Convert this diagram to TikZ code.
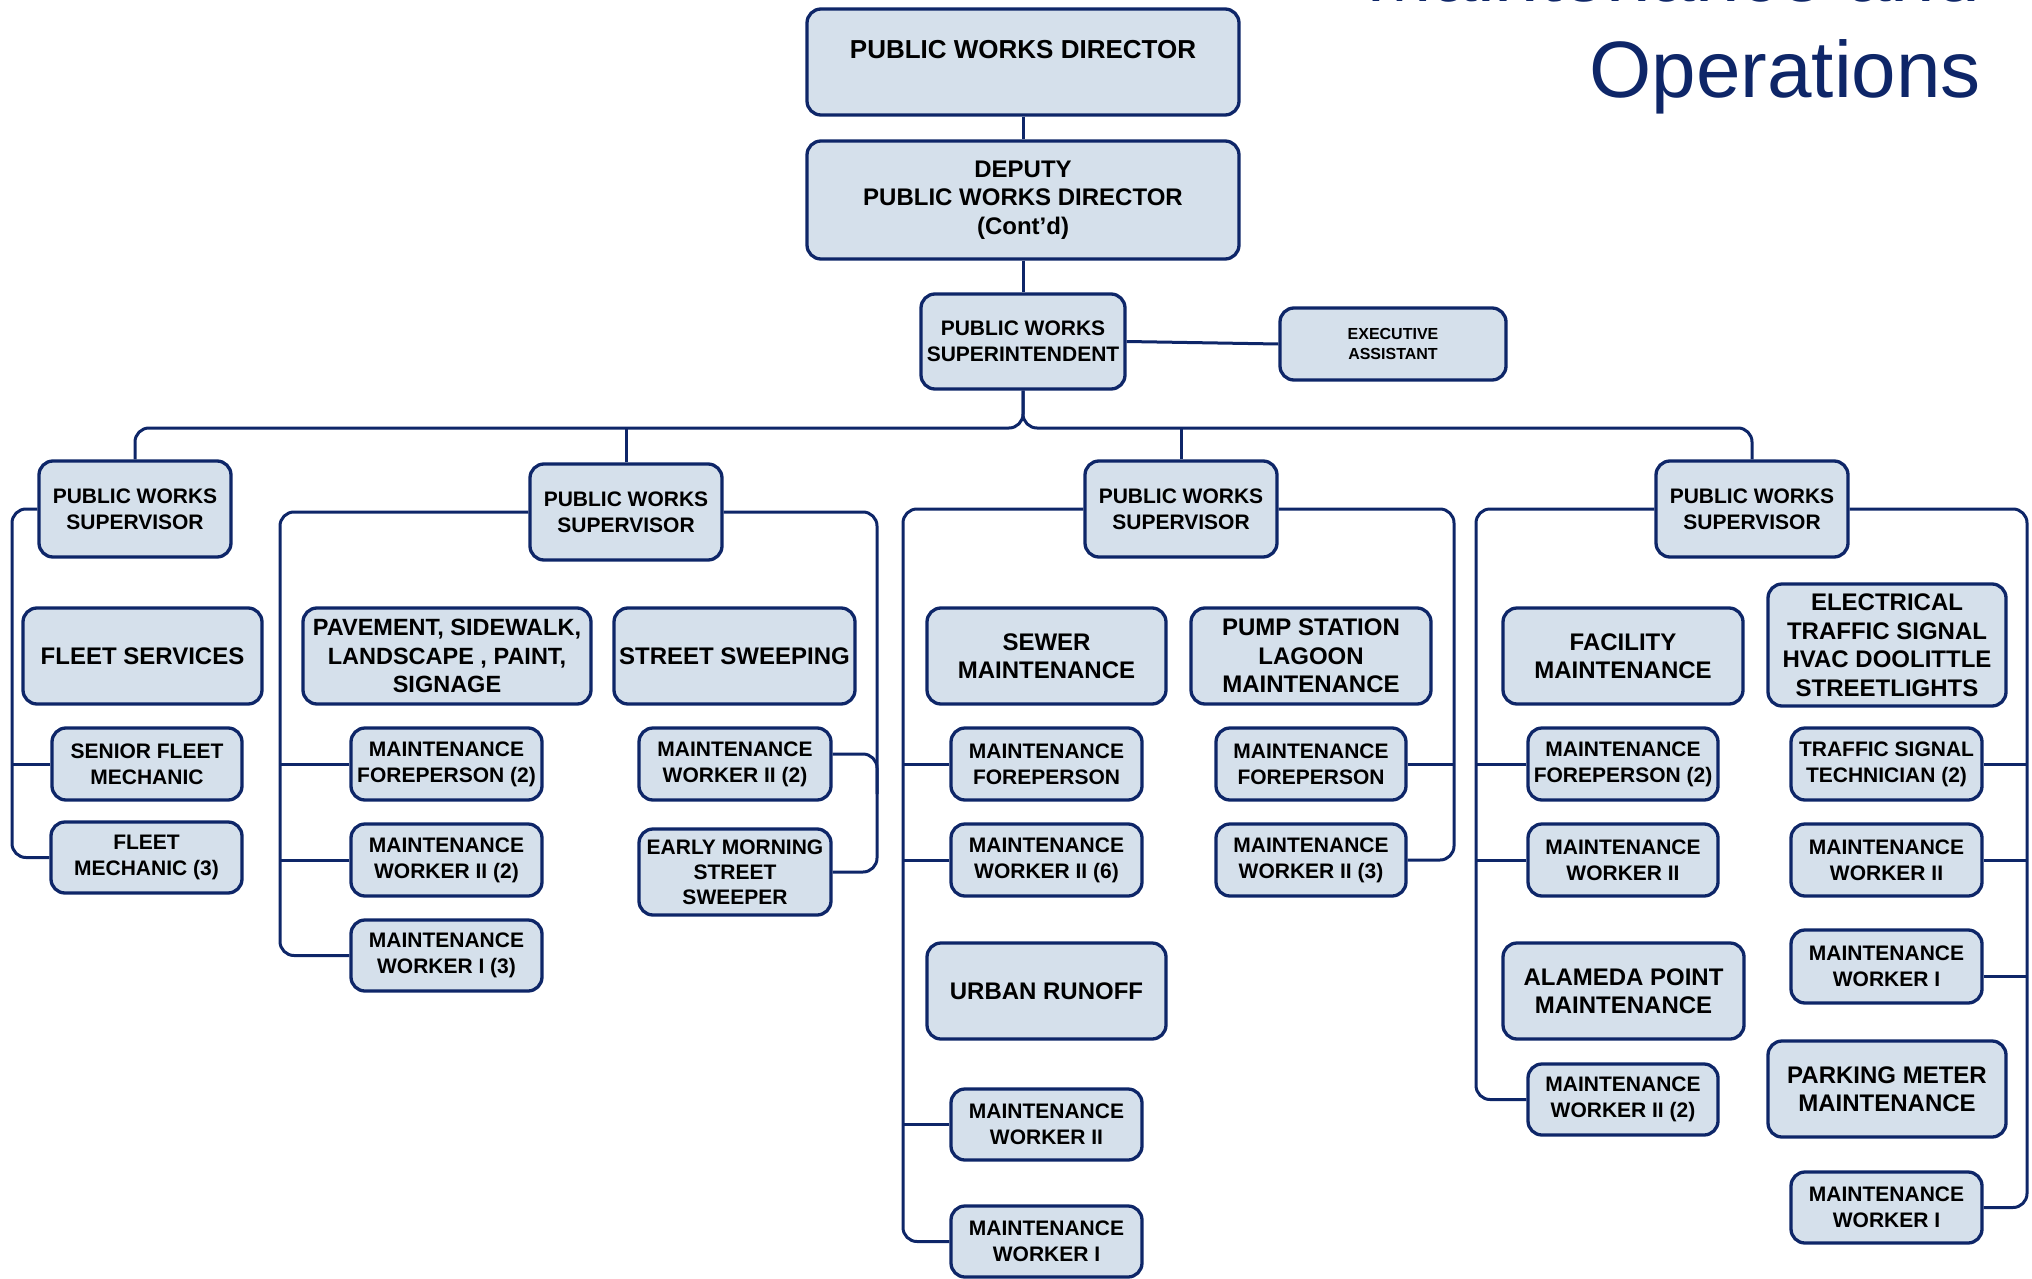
\documentclass[tikz,border=0pt]{standalone}
\usepackage{fontspec}
\setmainfont{Liberation Sans}
\definecolor{navy}{RGB}{14,38,104}
\definecolor{boxfill}{RGB}{213,224,235}

\begin{document}
\begin{tikzpicture}[x=1pt,y=-1pt,
          box/.style={draw=navy,fill=boxfill,line width=3.3pt,rounded corners=14pt,
            align=center,inner sep=0pt},
          small/.style={box,minimum width=191pt,minimum height=72pt,
            font=\bfseries\fontsize{21}{26}\selectfont},
          unit/.style={box,minimum width=240pt,minimum height=96pt,
            font=\bfseries\fontsize{24}{28.5}\selectfont},
          boss/.style={box,minimum width=192pt,minimum height=96pt,
            font=\bfseries\fontsize{21}{26}\selectfont},
          title/.style={text=navy,inner sep=0pt,font=\fontsize{80}{95}\selectfont},
          link/.style={draw=navy,line width=3pt,rounded corners=14pt}]
          \useasboundingbox (0,0) rectangle (2032,1279);
          \clip (0,0) rectangle (2032,1279);
          \node[title,anchor=base east] (ttl1) at (1980,2) {Maintenance and};
          \node[title,anchor=base east] (ttl2) at (1981,98) {Operations};
          \node[box,minimum width=432pt,minimum height=106pt,
             font=\bfseries\fontsize{26}{26}\selectfont] (dir) at (1023,62)
             {PUBLIC WORKS DIRECTOR\\\mbox{}};
          \node[box,minimum width=432pt,minimum height=118pt,
             font=\bfseries\fontsize{24}{28.5}\selectfont] (dep) at (1023,200)
             {DEPUTY\\PUBLIC WORKS DIRECTOR\\(Cont’d)};
          \node[box,minimum width=204pt,minimum height=95pt,
             font=\bfseries\fontsize{21}{26}\selectfont] (sup) at (1023,341.5)
             {PUBLIC WORKS\\SUPERINTENDENT};
          \node[box,minimum width=226pt,minimum height=72pt,
             font=\bfseries\fontsize{16}{19.5}\selectfont] (exec) at (1393,344)
             {EXECUTIVE\\ASSISTANT};
          \coordinate (bus) at (1023,428);
          \coordinate (sa) at (12,0);
          \coordinate (sb) at (280,0);
          \coordinate (sc) at (877,0);
          \coordinate (sd) at (903,0);
          \coordinate (se) at (1454,0);
          \coordinate (sf) at (1476,0);
          \coordinate (sg) at (2027,0);
          \node[boss] (sv1) at (135,509) {PUBLIC WORKS\\SUPERVISOR};
          \node[unit,minimum width=239pt] (fleet) at (142.5,656) {FLEET SERVICES};
          \node[small,minimum width=190pt] (sfm) at (147,764) {SENIOR FLEET\\MECHANIC};
          \node[small,minimum height=71pt] (fm) at (146.5,857.5) {FLEET\\MECHANIC (3)};
          \node[boss] (sv2) at (626,512) {PUBLIC WORKS\\SUPERVISOR};
          \node[unit,minimum width=288pt,font=\bfseries\fontsize{23.5}{28.5}\selectfont]
             (pave) at (447,656) {PAVEMENT, SIDEWALK,\\LANDSCAPE , PAINT,\\SIGNAGE};
          \node[unit,minimum width=241pt] (sweep) at (734.5,656) {STREET SWEEPING};
          \node[small] (pfp2) at (446.5,764) {MAINTENANCE\\FOREPERSON (2)};
          \node[small] (pw2b) at (446.5,860) {MAINTENANCE\\WORKER II (2)};
          \node[small,minimum height=71pt] (pw1c) at (446.5,955.5) {MAINTENANCE\\WORKER I (3)};
          \node[small,minimum width=192pt] (sw2) at (735,764) {MAINTENANCE\\WORKER II (2)};
          \node[small,minimum width=192pt,minimum height=86pt,
             font=\bfseries\fontsize{21}{25}\selectfont] (early) at (735,872)
             {EARLY MORNING\\STREET\\SWEEPER};
          \node[boss] (sv3) at (1181,509) {PUBLIC WORKS\\SUPERVISOR};
          \node[unit,minimum width=239pt] (sewer) at (1046.5,656) {SEWER\\MAINTENANCE};
          \node[unit] (pump) at (1311,656) {PUMP STATION\\LAGOON\\MAINTENANCE};
          \node[small] (sfp) at (1046.5,764) {MAINTENANCE\\FOREPERSON};
          \node[small] (sw6) at (1046.5,860) {MAINTENANCE\\WORKER II (6)};
          \node[unit,minimum width=239pt] (urban) at (1046.5,991) {URBAN RUNOFF};
          \node[small,minimum height=71pt] (uw2) at (1046.5,1124.5) {MAINTENANCE\\WORKER II};
          \node[small,minimum height=71pt] (uw1) at (1046.5,1241.5) {MAINTENANCE\\WORKER I};
          \node[small,minimum width=190pt] (lfp) at (1311,764) {MAINTENANCE\\FOREPERSON};
          \node[small,minimum width=190pt] (lw3) at (1311,860) {MAINTENANCE\\WORKER II (3)};
          \node[boss] (sv4) at (1752,509) {PUBLIC WORKS\\SUPERVISOR};
          \node[unit] (fac) at (1623,656) {FACILITY\\MAINTENANCE};
          \node[unit,minimum width=238pt,minimum height=122pt] (elec) at (1887,645)
             {ELECTRICAL\\TRAFFIC SIGNAL\\HVAC DOOLITTLE\\STREETLIGHTS};
          \node[small,minimum width=190pt] (ffp2) at (1623,764) {MAINTENANCE\\FOREPERSON (2)};
          \node[small,minimum width=190pt] (fw2) at (1623,860) {MAINTENANCE\\WORKER II};
          \node[unit,minimum width=241pt] (ala) at (1623.5,991) {ALAMEDA POINT\\MAINTENANCE};
          \node[small,minimum width=190pt,minimum height=71pt] (aw2) at (1623,1099.5)
             {MAINTENANCE\\WORKER II (2)};
          \node[small] (tst) at (1886.5,764) {TRAFFIC SIGNAL\\TECHNICIAN (2)};
          \node[small] (tw2) at (1886.5,860) {MAINTENANCE\\WORKER II};
          \node[small,minimum height=73pt] (tw1) at (1886.5,966.5) {MAINTENANCE\\WORKER I};
          \node[unit,minimum width=238pt] (park) at (1887,1089) {PARKING METER\\MAINTENANCE};
          \node[small,minimum height=71pt] (pmw1) at (1886.5,1207.5) {MAINTENANCE\\WORKER I};
          \draw[link] (dir.south) -- (dep.north);
          \draw[link] (dep.south) -- (sup.north);
          \draw[link] (sup.east) -- (exec.west);
          \draw[link] (sup.south) -- (bus) -| (sv1.north);
          \draw[link] (sup.south) -- (bus) -| (sv4.north);
          \draw[link] (sv2.north) -- (sv2.north |- bus);
          \draw[link] (sv3.north) -- (sv3.north |- bus);
          \draw[link] (sv1.west) -| (sa |- fm.west) -- (fm.west);
          \draw[link] (sfm.west) -- (sfm.west -| sa);
          \draw[link] (sv2.west) -| (sb |- pw1c.west) -- (pw1c.west);
          \draw[link] (pfp2.west) -- (pfp2.west -| sb);
          \draw[link] (pw2b.west) -- (pw2b.west -| sb);
          \draw[link] (sv2.east) -| (sc |- early.east) -- (early.east);
          \draw[link] ([yshift=10pt]sw2.east) -| ([yshift=-30pt]sw2.east -| sc);
          \draw[link] (sv3.west) -| (sd |- uw1.west) -- (uw1.west);
          \draw[link] (sfp.west) -- (sfp.west -| sd);
          \draw[link] (sw6.west) -- (sw6.west -| sd);
          \draw[link] (uw2.west) -- (uw2.west -| sd);
          \draw[link] (sv3.east) -| (se |- lw3.east) -- (lw3.east);
          \draw[link] (lfp.east) -- (lfp.east -| se);
          \draw[link] (sv4.west) -| (sf |- aw2.west) -- (aw2.west);
          \draw[link] (ffp2.west) -- (ffp2.west -| sf);
          \draw[link] (fw2.west) -- (fw2.west -| sf);
          \draw[link] (sv4.east) -| (sg |- pmw1.east) -- (pmw1.east);
          \draw[link] (tst.east) -- (tst.east -| sg);
          \draw[link] (tw2.east) -- (tw2.east -| sg);
          \draw[link] ([yshift=-10pt]tw1.east) -- ([yshift=-10pt]tw1.east -| sg);
        \end{tikzpicture}
\end{document}
